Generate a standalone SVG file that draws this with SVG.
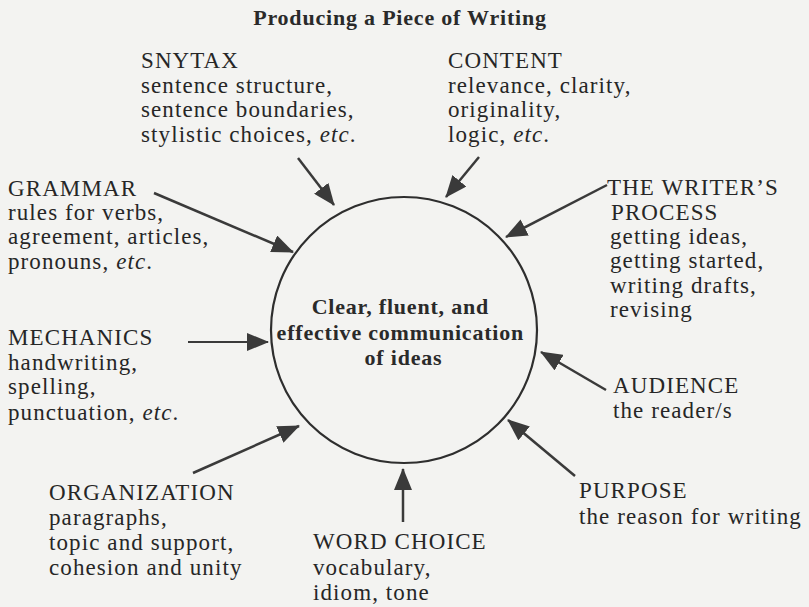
<svg xmlns="http://www.w3.org/2000/svg" width="809" height="607" viewBox="0 0 809 607">
  <defs>
    <marker id="ah" viewBox="0 0 22 18" refX="21" refY="9" markerWidth="22" markerHeight="18" markerUnits="userSpaceOnUse" orient="auto">
      <path d="M0,0 L22,9 L0,18 z" fill="#3a3a3a"/>
    </marker>
    <style>
      .t { font-family: "Liberation Serif", "Times New Roman", serif; font-size: 23px; letter-spacing: 1.1px; fill: #262626; }
      .b { font-family: "Liberation Serif", "Times New Roman", serif; font-size: 22px; font-weight: bold; letter-spacing: 0.8px; fill: #2a2a2a; }
      .i { font-style: italic; }
      .c { fill: none; stroke: #2e2e2e; stroke-width: 2.2; }
      .a { fill: none; stroke: #3a3a3a; stroke-width: 2.5; marker-end: url(#ah); }
    </style>
  </defs>
  <rect x="0" y="0" width="809" height="607" fill="#f3f3f1"/>

  <text class="b" x="400" y="25" text-anchor="middle">Producing a Piece of Writing</text>

  <g id="center">
    <circle class="c" cx="404" cy="330" r="133"/>
    <text class="b" text-anchor="middle">
      <tspan x="403.5" y="314">Clear, fluent, and</tspan>
      <tspan x="403.5" y="339.5">effective communication</tspan>
      <tspan x="403.5" y="365">of ideas</tspan>
    </text>
  </g>

  <g id="syntax">
    <text class="t">
      <tspan x="141" y="68">SNYTAX</tspan>
      <tspan x="141" y="93">sentence structure,</tspan>
      <tspan x="141" y="117">sentence boundaries,</tspan>
      <tspan x="141" y="142">stylistic choices, <tspan class="i">etc</tspan>.</tspan>
    </text>
  </g>

  <g id="content">
    <text class="t">
      <tspan x="448" y="68">CONTENT</tspan>
      <tspan x="448" y="93">relevance, clarity,</tspan>
      <tspan x="448" y="117">originality,</tspan>
      <tspan x="448" y="142">logic, <tspan class="i">etc</tspan>.</tspan>
    </text>
  </g>

  <g id="grammar">
    <text class="t">
      <tspan x="8" y="196">GRAMMAR</tspan>
      <tspan x="8" y="220">rules for verbs,</tspan>
      <tspan x="8" y="244">agreement, articles,</tspan>
      <tspan x="8" y="269">pronouns, <tspan class="i">etc</tspan>.</tspan>
    </text>
  </g>

  <g id="mechanics">
    <text class="t">
      <tspan x="8" y="345">MECHANICS</tspan>
      <tspan x="8" y="370">handwriting,</tspan>
      <tspan x="8" y="394">spelling,</tspan>
      <tspan x="8" y="420">punctuation, <tspan class="i">etc</tspan>.</tspan>
    </text>
  </g>

  <g id="writers-process">
    <text class="t">
      <tspan x="607" y="195">THE WRITER’S</tspan>
      <tspan x="611" y="220">PROCESS</tspan>
      <tspan x="610" y="244">getting ideas,</tspan>
      <tspan x="610" y="268">getting started,</tspan>
      <tspan x="610" y="293">writing drafts,</tspan>
      <tspan x="610" y="317">revising</tspan>
    </text>
  </g>

  <g id="audience">
    <text class="t">
      <tspan x="613" y="393">AUDIENCE</tspan>
      <tspan x="613" y="418">the reader/s</tspan>
    </text>
  </g>

  <g id="purpose">
    <text class="t">
      <tspan x="579" y="498">PURPOSE</tspan>
      <tspan x="579" y="524">the reason for writing</tspan>
    </text>
  </g>

  <g id="organization">
    <text class="t">
      <tspan x="49" y="500">ORGANIZATION</tspan>
      <tspan x="49" y="525">paragraphs,</tspan>
      <tspan x="49" y="550">topic and support,</tspan>
      <tspan x="49" y="575">cohesion and unity</tspan>
    </text>
  </g>

  <g id="word-choice">
    <text class="t">
      <tspan x="313" y="549">WORD CHOICE</tspan>
      <tspan x="313" y="575">vocabulary,</tspan>
      <tspan x="313" y="600">idiom, tone</tspan>
    </text>
  </g>

  <g id="connectors">
    <line class="a" x1="298" y1="158" x2="334" y2="205"/>
    <line class="a" x1="479" y1="157" x2="446" y2="197"/>
    <line class="a" x1="607" y1="185" x2="506" y2="237"/>
    <line class="a" x1="154" y1="193" x2="293" y2="252"/>
    <line class="a" x1="188" y1="342" x2="268" y2="342" style="stroke-width:1.8"/>
    <line class="a" x1="606" y1="390" x2="541" y2="352"/>
    <line class="a" x1="575" y1="476" x2="508" y2="420"/>
    <line class="a" x1="193" y1="473" x2="299" y2="426"/>
    <line class="a" x1="403" y1="522" x2="403" y2="469"/>
  </g>
</svg>
